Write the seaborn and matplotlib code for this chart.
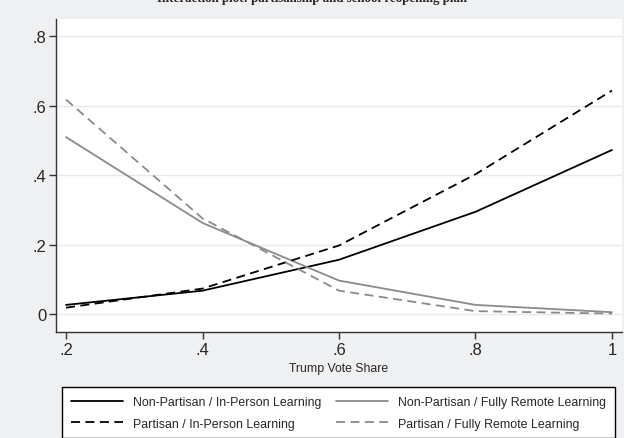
import matplotlib
matplotlib.use("Agg")
import matplotlib.pyplot as plt
import seaborn as sns
import pandas as pd
from matplotlib.lines import Line2D

# Predicted shares across Trump vote share, by district type and reopening plan
vote_share = [0.2, 0.4, 0.6, 0.8, 1.0]
nonpartisan_inperson = [0.027, 0.068, 0.157, 0.295, 0.473]
partisan_inperson = [0.019, 0.074, 0.198, 0.403, 0.644]
nonpartisan_remote = [0.510, 0.263, 0.097, 0.027, 0.006]
partisan_remote = [0.618, 0.276, 0.068, 0.009, 0.002]

series_labels = [
    "Non-Partisan / In-Person Learning",
    "Non-Partisan / Fully Remote Learning",
    "Partisan / In-Person Learning",
    "Partisan / Fully Remote Learning",
]
series_values = [nonpartisan_inperson, nonpartisan_remote,
                 partisan_inperson, partisan_remote]

x_ticks = [0.2, 0.4, 0.6, 0.8, 1.0]
x_tick_labels = [".2", ".4", ".6", ".8", "1"]
y_ticks = [0.0, 0.2, 0.4, 0.6, 0.8]
y_tick_labels = ["0", ".2", ".4", ".6", ".8"]
x_label = "Trump Vote Share"
title = "Interaction plot: partisanship and school reopening plan"

rows = []
for lab, vals in zip(series_labels, series_values):
    for xv, yv in zip(vote_share, vals):
        rows.append({"share": xv, "value": yv, "series": lab})
df = pd.DataFrame(rows)

sns.set_style("white")
plt.rcParams["font.family"] = ["Liberation Sans", "DejaVu Sans"]

bg = "#eff0f2"
grey = "#8a8a8a"
dash = (5, 3)
palette = {series_labels[0]: "black", series_labels[1]: grey,
           series_labels[2]: "black", series_labels[3]: grey}
dashes = {series_labels[0]: "", series_labels[1]: "",
          series_labels[2]: dash, series_labels[3]: dash}

fig = plt.figure(figsize=(6.24, 4.39), dpi=100, facecolor=bg)
ax = fig.add_axes([56 / 624, 1 - 333 / 439, 566 / 624, 313 / 439])
ax.set_facecolor("white")

sns.lineplot(data=df, x="share", y="value", hue="series", style="series",
             palette=palette, dashes=dashes, linewidth=1.3, ax=ax,
             legend=False, estimator=None)

ax.set_xlim(0.1853, 1.0147)
ax.set_ylim(-0.051, 0.85)
ax.set_xticks(x_ticks)
ax.set_xticklabels(x_tick_labels, fontsize=12)
ax.set_yticks(y_ticks)
ax.set_yticklabels(y_tick_labels, fontsize=12)
ax.set_xlabel(x_label, fontsize=8.8, labelpad=4)
ax.set_ylabel("")
ax.grid(axis="y", color="#e6e8ea", linewidth=1.0)
ax.set_axisbelow(True)
for side in ["top", "right"]:
    ax.spines[side].set_visible(False)
for side in ["left", "bottom"]:
    ax.spines[side].set_color("#333333")
    ax.spines[side].set_linewidth(1.0)
ax.tick_params(axis="both", direction="out", length=5, width=1.0,
               color="#333333", left=True, bottom=True, pad=2)

fig.text(0.5, 1 - 2 / 439, title, ha="center", va="baseline",
         fontsize=9.3, fontweight="bold", family=["Liberation Serif"])

handles = [
    Line2D([], [], color="black", linewidth=1.3),
    Line2D([], [], color="black", linewidth=1.3, dashes=dash),
    Line2D([], [], color=grey, linewidth=1.3),
    Line2D([], [], color=grey, linewidth=1.3, dashes=dash),
]
labels = [series_labels[0], series_labels[2], series_labels[1], series_labels[3]]
leg = fig.legend(handles, labels, ncol=2, loc="upper left",
                 bbox_to_anchor=(62 / 624, 1 - 388 / 439),
                 fontsize=8.9, handlelength=4.2,
                 frameon=True, fancybox=False, edgecolor="black",
                 facecolor="white", framealpha=1, borderpad=0.72,
                 borderaxespad=0, labelspacing=0.78, columnspacing=1.2,
                 handletextpad=0.8)
leg.get_frame().set_linewidth(1.0)

fig.savefig("out.png", dpi=100, facecolor=bg)
